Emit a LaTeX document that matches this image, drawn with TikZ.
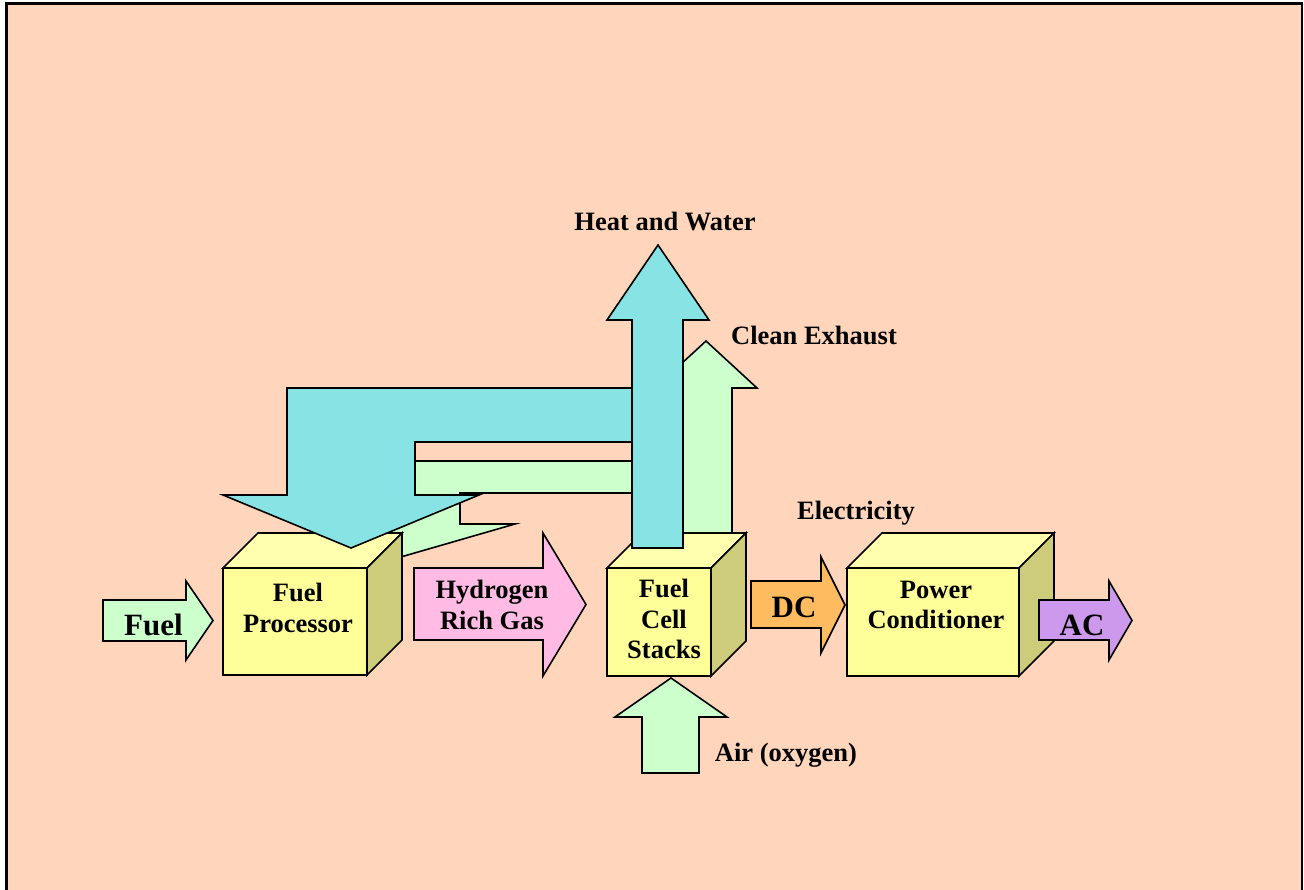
\documentclass[tikz,border=0pt]{standalone}
\usepackage{fontspec}
\setmainfont{Liberation Serif}
\usepackage{tikz}

\definecolor{peach}{RGB}{255,214,188}
\definecolor{boxfront}{RGB}{255,255,153}
\definecolor{boxtop}{RGB}{255,255,173}
\definecolor{boxside}{RGB}{204,204,122}
\definecolor{heatcyan}{RGB}{136,228,228}
\definecolor{mintgreen}{RGB}{204,255,204}
\definecolor{gaspink}{RGB}{255,187,228}
\definecolor{dcorange}{RGB}{255,187,96}
\definecolor{acpurple}{RGB}{204,153,236}

% cube: left, top, right, bottom of the front face
\newcommand{\blockcube}[4]{%
  \filldraw[outline, fill=boxtop] (#1,#2) -- (#1+35,#2-35) -- (#3+35,#2-35) -- (#3,#2) -- cycle;
  \filldraw[outline, fill=boxside] (#3,#2) -- (#3+35,#2-35) -- (#3+35,#4-35) -- (#3,#4) -- cycle;
  \filldraw[outline, fill=boxfront] (#1,#2) rectangle (#3,#4);
}

\begin{document}
\begin{tikzpicture}[x=1pt, y=-1pt,
    outline/.style={draw=black, line width=1.6pt, line join=miter},
    lbl/.style={font=\bfseries\fontsize{26.5}{30.5}\selectfont, align=center, inner sep=0pt},
    biglbl/.style={font=\bfseries\fontsize{31}{36}\selectfont, inner sep=0pt}]
        \useasboundingbox (0,0) rectangle (1304,890);

        % Background and frame
        \fill[peach] (6.5,3.5) rectangle (1302,890);
        \draw[line width=2.5pt] (6.5,890) -- (6.5,3.5) -- (1302,3.5) -- (1302,890);

        % Exhaust fed back to the processor
        \filldraw[outline, fill=mintgreen] (632,461) -- (415,461) -- (415,494) -- (360,540) -- (360,563)
            -- (380,563) -- (515,524) -- (460,524) -- (460,493) -- (632,493) -- cycle;

        % Fuel processor box
        \blockcube{223}{568}{367}{675}

        % Heat fed back to the processor
        \filldraw[outline, fill=heatcyan] (632,388) -- (287,388) -- (287,495) -- (223,495) -- (351,548)
            -- (479,495) -- (415,495) -- (415,442) -- (632,442) -- cycle;

        % Clean exhaust going up
        \filldraw[outline, fill=mintgreen] (680,545) -- (680,388) -- (655,388) -- (706,341) -- (757,388)
            -- (732,388) -- (732,545) -- cycle;

        % Stack and conditioner boxes
        \blockcube{607}{568}{711}{676}
        \blockcube{847}{568}{1019}{676}

        % Heat and water going up
        \filldraw[outline, fill=heatcyan] (632,548) -- (632,320) -- (607,320) -- (658,245) -- (709,320)
            -- (683,320) -- (683,548) -- cycle;

        % Flow arrows
        \filldraw[outline, fill=mintgreen] (103,600) -- (186,600) -- (186,581) -- (213,620.5) -- (186,660)
            -- (186,641) -- (103,641) -- cycle;
        \filldraw[outline, fill=gaspink] (414,568) -- (543,568) -- (543,533) -- (586,604.5) -- (543,676)
            -- (543,640) -- (414,640) -- cycle;
        \filldraw[outline, fill=dcorange] (751,581) -- (821,581) -- (821,557) -- (845,605) -- (821,653)
            -- (821,628) -- (751,628) -- cycle;
        \filldraw[outline, fill=acpurple] (1039,600) -- (1109,600) -- (1109,581) -- (1132,620.5) -- (1109,660)
            -- (1109,640) -- (1039,640) -- cycle;
        \filldraw[outline, fill=mintgreen] (642,773) -- (642,717) -- (615,717) -- (671,678) -- (727,717)
            -- (699,717) -- (699,773) -- cycle;

        % Labels
        \node[biglbl, anchor=base] (fuel) at (153.5,635) {Fuel};
        \node[lbl] (processor) at (298,608) {Fuel\\Processor};
        \node[lbl] (hydrogen) at (492,605) {Hydrogen\\Rich Gas};
        \node[lbl] (stacks) at (664,619) {Fuel\\Cell\\Stacks};
        \node[biglbl, anchor=base] (dc) at (794,617) {DC};
        \node[lbl] (conditioner) at (936,605) {Power\\Conditioner};
        \node[biglbl, anchor=base] (ac) at (1082,635) {AC};
        \node[lbl, anchor=base] (heat) at (665,231) {Heat and Water};
        \node[lbl, anchor=base] (exhaust) at (814,345) {Clean Exhaust};
        \node[lbl, anchor=base] (electricity) at (856,519) {Electricity};
        \node[lbl, anchor=base] (air) at (786,761) {Air (oxygen)};
    \end{tikzpicture}
\end{document}
